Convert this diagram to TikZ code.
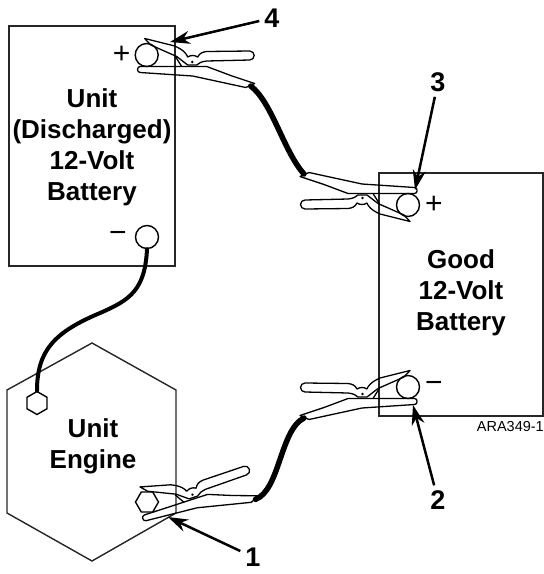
\documentclass[tikz,border=0pt]{standalone}
\usepackage{fontspec}
\setmainfont{Liberation Sans}
\usetikzlibrary{arrows.meta,shapes.geometric,positioning}
\begin{document}
\begin{tikzpicture}[x=1pt,y=-1pt]
    \tikzstyle{arrow} = [line width=2.5pt, -{Stealth[length=20pt,width=13pt]}]
    \tikzstyle{box} = [draw=black!85, line width=1.8pt]
    \tikzstyle{post} = [circle, draw, line width=1.4pt, minimum size=23pt, inner sep=0pt]
    \tikzstyle{nut} = [regular polygon, regular polygon sides=6, draw, line width=1.4pt, minimum size=23pt, inner sep=0pt]
    \tikzstyle{cable} = [line width=5.5pt, line cap=round]
    \tikzstyle{title} = [font=\fontsize{26}{31}\selectfont\bfseries, align=center]
    \tikzstyle{num} = [font=\fontsize{27}{30}\selectfont\bfseries, inner sep=5pt]
    \tikzstyle{sign} = [font=\fontsize{30}{32}\selectfont]
    \tikzstyle{clampline} = [line width=1.3pt, line join=round]
    \tikzset{clamp/.pic={
        % upper lever
        \draw[clampline] (-2,-16.5) -- (28,-9) .. controls (37,-5) and (40,-1) .. (41,2)
            .. controls (44,0) and (48,0) .. (51,2) .. controls (53,-2) and (56,-3) .. (60,-3.5)
            -- (103,-4) arc[start angle=-90, end angle=90, radius=4.5] -- (60,6)
            .. controls (55,6.5) and (52,8) .. (50,10) -- (41,10) -- (30,1.5) -- (4,-10) -- cycle;
        % lower lever
        \draw[clampline] (-6.5,11.5) .. controls (-10,11.5) and (-10,17.5) .. (-6.5,17.5) -- (46,21)
            -- (99,32.5) -- (108,28.5) -- (84,20.5) -- (60,11.5) -- (36,11.5) -- cycle;
        \draw[clampline] (29,2) -- (35,11.5);
        \fill (45.5,7) circle[radius=1.4];
        \coordinate (-end) at (104,31);
    }}
    \useasboundingbox (0,0) rectangle (544,574);

    % batteries and engine
    \draw[box] (9,26) rectangle (175,266);
    \draw[box] (379,173) rectangle (543,416);
    \draw[box, line width=1.4pt] (92,343) -- (176,390) -- (176,513) -- (92,561) -- (7,513) -- (7,390) -- cycle;

    \node[post](posA) at (146.7,55) {};
    \node[post](negA) at (147,237) {};
    \node[post](posB) at (408,205) {};
    \node[post](negB) at (408,387) {};
    \node[nut, shape border rotate=30](nutG) at (37,403) {};
    \node[nut](nutE) at (147,502) {};

    \node[sign, left of = posA, node distance = 25pt](plusA){+};
    \node[sign, left of = negA, node distance = 29pt](minusA){−};
    \node[sign, right of = posB, node distance = 26pt](plusB){+};
    \node[sign, right of = negB, node distance = 26pt](minusB){−};

    \node[title](battA) at (92,147) {Unit\\(Discharged)\\12-Volt\\Battery};
    \node[title](battB) at (461,293) {Good\\12-Volt\\Battery};
    \node[title](engine) at (93,446) {Unit\\Engine};
    \node[font=\fontsize{14.5}{16}\selectfont, anchor=east, inner sep=0pt](fig) at (544,427) {ARA349-1};

    % clamps
    \pic (c4) at (146.7,55) {clamp};
    \pic[rotate=180] (c3) at (408,205) {clamp};
    \pic[xscale=-1] (c2) at (408,387) {clamp};
    \pic[rotate=18] (c1) at (147,502) {clamp};

    % cables
    \draw[cable] (c4-end) .. controls (272,102) and (284,152) .. (c3-end);
    \draw[cable] (c1-end) .. controls (280,490) and (280,430) .. (c2-end);
    \draw[cable, line width=4pt] (negA.south) .. controls (145,290) and (130,300) .. (100,313)
        .. controls (55,332) and (37,350) .. (nutG.north);

    % callouts
    \node[num](n4) at (272,18) {4};
    \node[num](n3) at (438,82) {3};
    \node[num](n2) at (438,500) {2};
    \node[num](n1) at (253,557) {1};
    \coordinate (tip4) at (170,42);
    \coordinate (tip3) at (415,190);
    \coordinate (tip2) at (413,405);
    \coordinate (tip1) at (168,517);
    \draw[arrow] (n4) -- (tip4);
    \draw[arrow] (n3) -- (tip3);
    \draw[arrow] (n2) -- (tip2);
    \draw[arrow] (n1) -- (tip1);
\end{tikzpicture}
\end{document}
